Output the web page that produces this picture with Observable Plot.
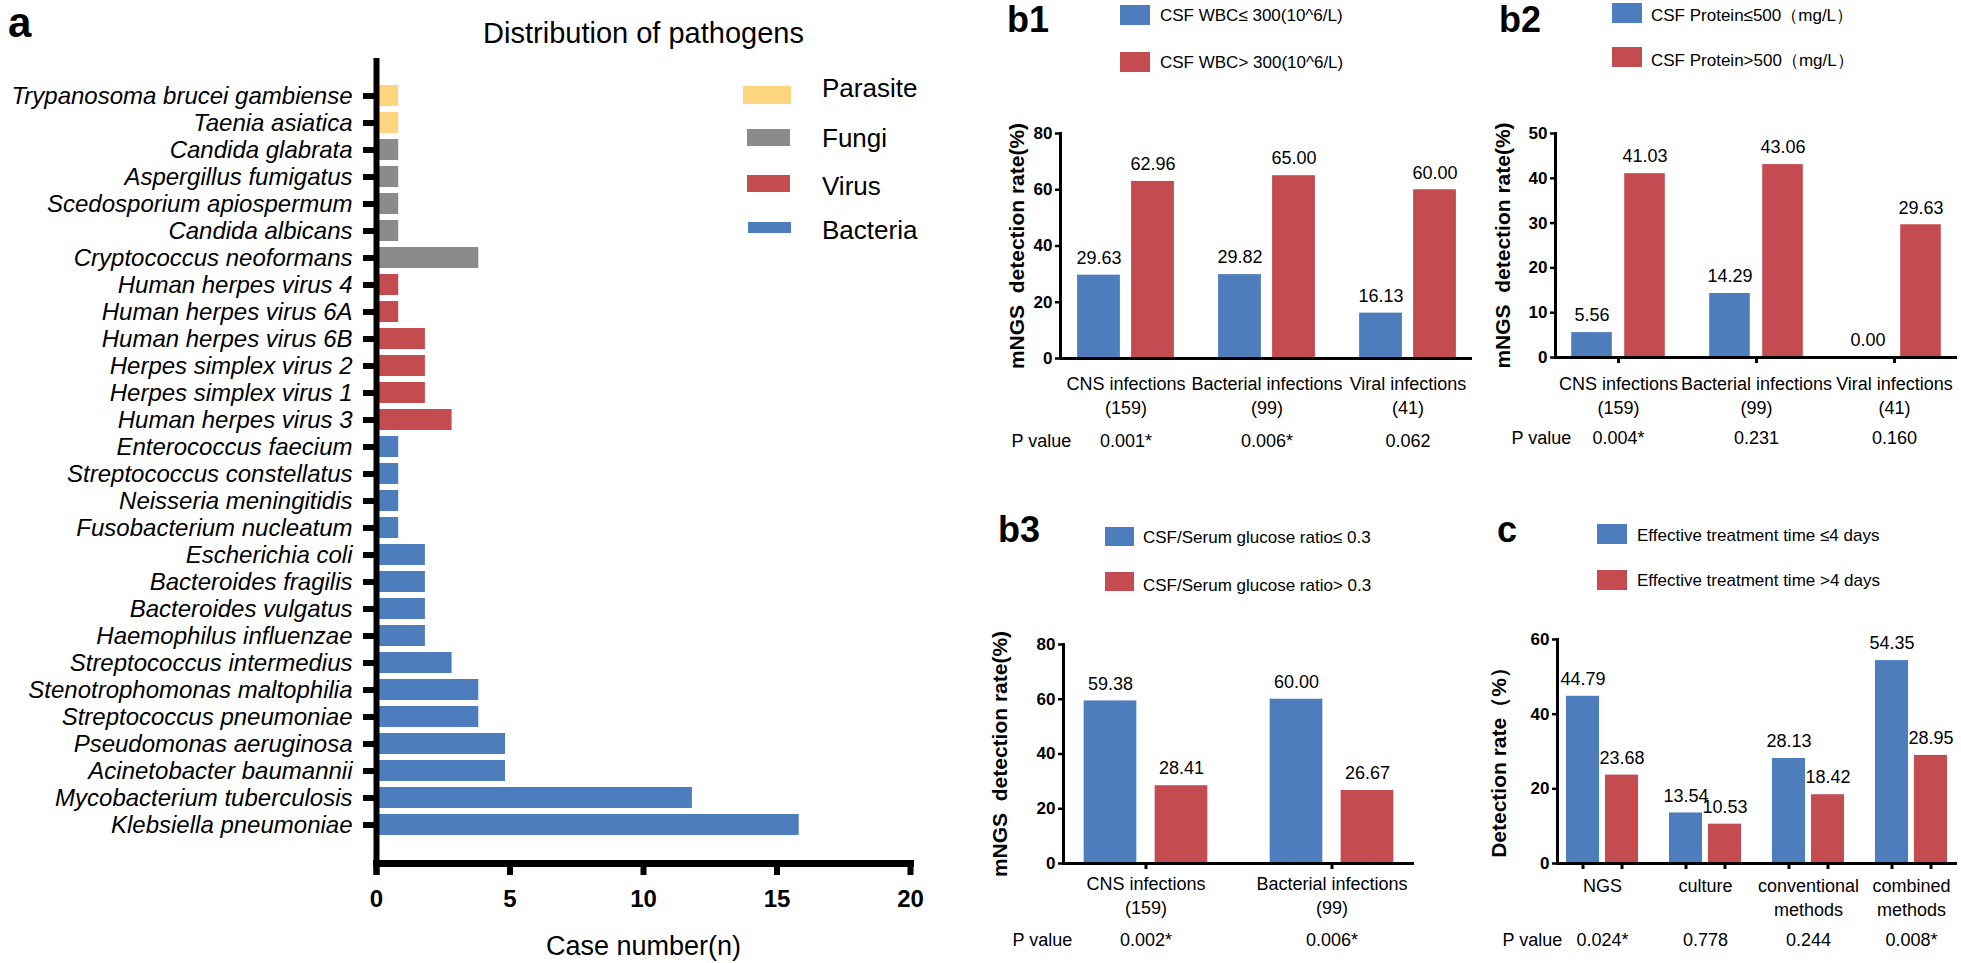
<!DOCTYPE html>
<html><head><meta charset="utf-8">
<script src="https://cdn.jsdelivr.net/npm/d3@7"></script>
<script src="https://cdn.jsdelivr.net/npm/@observablehq/plot@0.6"></script>
<style>
html,body{margin:0;padding:0;background:#fff;}
#root{position:relative;width:1961px;height:963px;overflow:hidden;font-family:'Liberation Sans',Arial,sans-serif;color:#000;}
.t{position:absolute;line-height:1;white-space:pre;}
.sw{position:absolute;}
.pl{position:absolute;}
</style></head><body><div id="root"></div>
<script>
// ---------- DATA ----------
const pathogenNames = [
  "Trypanosoma brucei gambiense","Taenia asiatica","Candida glabrata","Aspergillus fumigatus",
  "Scedosporium apiospermum","Candida albicans","Cryptococcus neoformans","Human herpes virus 4",
  "Human herpes virus 6A","Human herpes virus 6B","Herpes simplex virus 2","Herpes simplex virus 1",
  "Human herpes virus 3","Enterococcus faecium","Streptococcus constellatus","Neisseria meningitidis",
  "Fusobacterium nucleatum","Escherichia coli","Bacteroides fragilis","Bacteroides vulgatus",
  "Haemophilus influenzae","Streptococcus intermedius","Stenotrophomonas maltophilia",
  "Streptococcus pneumoniae","Pseudomonas aeruginosa","Acinetobacter baumannii",
  "Mycobacterium tuberculosis","Klebsiella pneumoniae"];
const pathogenCounts = [1,1,1,1,1,1,4,1,1,2,2,2,3,1,1,1,1,2,2,2,2,3,4,4,5,5,12,16];
const pathogenTypes = ["Parasite","Parasite","Fungi","Fungi","Fungi","Fungi","Fungi",
  "Virus","Virus","Virus","Virus","Virus","Virus",
  "Bacteria","Bacteria","Bacteria","Bacteria","Bacteria","Bacteria","Bacteria","Bacteria",
  "Bacteria","Bacteria","Bacteria","Bacteria","Bacteria","Bacteria","Bacteria","Bacteria"];
const typeNames = ["Parasite","Fungi","Virus","Bacteria"];
const typeColors = ["#fdd57e","#8b8b8b","#c44c51","#4e7dbd"];
const caseTicks = [0,5,10,15,20];

const blue = "#4e7dbd", red = "#c44c51";

const b1Groups = ["CNS infections\n(159)","Bacterial infections\n(99)","Viral infections\n(41)"];
const b1Low = [29.63, 29.82, 16.13];
const b1High = [62.96, 65.00, 60.00];
const b1P = ["0.001*","0.006*","0.062"];
const b1Legend = ["CSF WBC\u2264 300(10^6/L)","CSF WBC> 300(10^6/L)"];

const b2Groups = ["CNS infections\n(159)","Bacterial infections\n(99)","Viral infections\n(41)"];
const b2Low = [5.56, 14.29, 0.00];
const b2High = [41.03, 43.06, 29.63];
const b2P = ["0.004*","0.231","0.160"];
const b2Legend = ["CSF Protein\u2264500\uff08mg/L\uff09","CSF Protein>500\uff08mg/L\uff09"];

const b3Groups = ["CNS infections\n(159)","Bacterial infections\n(99)"];
const b3Low = [59.38, 60.00];
const b3High = [28.41, 26.67];
const b3P = ["0.002*","0.006*"];
const b3Legend = ["CSF/Serum glucose ratio\u2264 0.3","CSF/Serum glucose ratio> 0.3"];

const cGroups = ["NGS","culture","conventional\nmethods","combined\nmethods"];
const cLow = [44.79, 13.54, 28.13, 54.35];
const cHigh = [23.68, 10.53, 18.42, 28.95];
const cP = ["0.024*","0.778","0.244","0.008*"];
const cLegend = ["Effective treatment time \u22644 days","Effective treatment time >4 days"];

// ---------- HELPERS ----------
const root = document.getElementById("root");
const FONT = "'Liberation Sans', Arial, sans-serif";
function addText(txt, x, yc, size, extra = {}) {
  const d = document.createElement("div");
  d.className = "t"; d.textContent = txt;
  d.style.left = x + "px"; d.style.top = (yc - size / 2) + "px"; d.style.fontSize = size + "px";
  Object.assign(d.style, extra);
  root.appendChild(d);
}
function addBaseText(txt, x, baseline, size, extra = {}) {
  addText(txt, x, baseline - 0.85 * size + size / 2, size, extra);
}
function addSwatch(x, y, w, h, color) {
  const d = document.createElement("div");
  d.className = "sw";
  Object.assign(d.style, {left: x + "px", top: y + "px", width: w + "px", height: h + "px", background: color});
  root.appendChild(d);
}
function place(svg, left, top) {
  svg.classList.add("pl");
  svg.style.left = left + "px"; svg.style.top = top + "px";
  root.appendChild(svg);
}

// ---------- PANEL a ----------
const pathogenData = pathogenNames.map((n, i) => ({name: n, count: pathogenCounts[i], type: pathogenTypes[i]}));
const plotA = Plot.plot({
  width: 980, height: 963,
  marginLeft: 376, marginRight: 70, marginTop: 58, marginBottom: 100,
  style: {fontFamily: FONT, color: "#000", background: "none", overflow: "visible"},
  x: {domain: [0, 20], label: null},
  y: {domain: pathogenNames, paddingInner: 0.208, paddingOuter: 0.612, label: null},
  color: {domain: typeNames, range: typeColors},
  marks: [
    Plot.barX(pathogenData, {y: "name", x: "count", fill: "type", insetRight: 4.5}),
    Plot.ruleX([0], {strokeWidth: 6, insetBottom: -12, insetTop: 0}),
    Plot.frame({anchor: "bottom", strokeWidth: 7}),
    Plot.axisY({tickSize: 13, tickPadding: 11, fontSize: 24, fontStyle: "italic", strokeWidth: 6, label: null}),
    Plot.axisX({ticks: caseTicks, tickSize: 12, tickPadding: 14, fontSize: 24, fontWeight: "bold", strokeWidth: 6, label: null}),
    Plot.text(["Case number(n)"], {text: d => d, frameAnchor: "bottom", lineAnchor: "middle", dy: 83, fontSize: 27}),
    Plot.text(["Distribution of pathogens"], {text: d => d, frameAnchor: "top", lineAnchor: "middle", dy: -25, fontSize: 29})
  ]
});
place(plotA, 0, 0);
addBaseText("a", 8, 38, 42, {fontWeight: "bold"});
// legend a
const legA = [[743, 86, 48, 18], [747, 129, 43, 17], [747, 175, 43, 17], [748, 222, 43, 11]];
const legAText = [88, 138, 186, 230];
typeNames.forEach((t, i) => {
  addSwatch(legA[i][0], legA[i][1], legA[i][2], legA[i][3], typeColors[i]);
  addText(t, 822, legAText[i], 26);
});

// ---------- GROUPED PANELS ----------
function grouped(cfg) {
  const {groups, low, high, pvals, left, top, width, height, axisLeft, axisRight, yTop, yBottom,
         yMax, yTicks, pi, po, barW, off, tickMode, tickPad, yTitle, titleDx, titleDy = 0, pDy, pLabelDx} = cfg;
  const ml = axisLeft - left, mr = left + width - axisRight, mt = yTop - top, mb = top + height - yBottom;
  const W = axisRight - axisLeft;
  const step = W / (groups.length - pi + 2 * po);
  const bw = step * (1 - pi);
  const inset = (bw - barW) / 2;
  const rows = groups.map((g, i) => ({g, low: low[i], high: high[i], p: pvals[i]}));
  const marks = [
    Plot.barY(rows, {x: "g", y: "low", fill: blue, insetLeft: inset, insetRight: inset, dx: -off}),
    Plot.barY(rows, {x: "g", y: "high", fill: red, insetLeft: inset, insetRight: inset, dx: off}),
    Plot.text(rows, {x: "g", y: "low", text: d => d.low.toFixed(2), dx: -off, dy: -17, fontSize: 18}),
    Plot.text(rows, {x: "g", y: "high", text: d => d.high.toFixed(2), dx: off, dy: -17, fontSize: 18}),
    Plot.ruleY([0], {strokeWidth: 3}),
    Plot.frame({anchor: "left", strokeWidth: 3}),
    Plot.axisY({ticks: yTicks, tickSize: 5, tickPadding: 3, fontSize: 17, fontWeight: "bold", strokeWidth: 2.5, label: null}),
    Plot.axisX({tickSize: tickMode === "group" ? 6 : 0, tickPadding: tickPad, fontSize: 18, lineHeight: 1.3,
                strokeWidth: 3, label: null, tickFormat: d => d}),
    Plot.text([yTitle], {text: d => d, frameAnchor: "left", textAnchor: "middle", lineAnchor: "middle",
                         rotate: -90, dx: titleDx, dy: titleDy, fontSize: 21, fontWeight: "bold"}),
    Plot.text(rows, {x: "g", text: "p", frameAnchor: "bottom", lineAnchor: "middle", dy: pDy, fontSize: 18}),
    Plot.text(["P value"], {text: d => d, frameAnchor: "bottom-left", textAnchor: "start", lineAnchor: "middle",
                            dx: pLabelDx, dy: pDy, fontSize: 18})
  ];
  if (tickMode === "bar") {
    const H = yBottom - yTop;
    marks.push(Plot.ruleX(rows, {x: "g", dx: -off, insetTop: H, insetBottom: -6, strokeWidth: 3}));
    marks.push(Plot.ruleX(rows, {x: "g", dx: off, insetTop: H, insetBottom: -6, strokeWidth: 3}));
  }
  const svg = Plot.plot({
    width, height, marginLeft: ml, marginRight: mr, marginTop: mt, marginBottom: mb,
    style: {fontFamily: FONT, color: "#000", background: "none", overflow: "visible"},
    x: {domain: groups, paddingInner: pi, paddingOuter: po, label: null},
    y: {domain: [0, yMax], label: null},
    marks
  });
  place(svg, left, top);
}

// b1
grouped({groups: b1Groups, low: b1Low, high: b1High, pvals: b1P,
  left: 985, top: 90, width: 495, height: 380, axisLeft: 1060, axisRight: 1472, yTop: 133, yBottom: 358,
  yMax: 80, yTicks: 4, pi: 0.2, po: 0.0558, barW: 43, off: 27, tickMode: "none", tickPad: 15,
  yTitle: "mNGS  detection rate(%)", titleDx: -43, pDy: 83, pLabelDx: -49});
addBaseText("b1", 1007, 33, 36, {fontWeight: "bold"});
addSwatch(1120, 5, 30, 20, blue); addText(b1Legend[0], 1160, 15, 17);
addSwatch(1120, 52, 30, 20, red); addText(b1Legend[1], 1160, 62, 17);

// b2
grouped({groups: b2Groups, low: b2Low, high: b2High, pvals: b2P,
  left: 1480, top: 90, width: 481, height: 380, axisLeft: 1555, axisRight: 1957, yTop: 133, yBottom: 357,
  yMax: 50, yTicks: 5, pi: 0.2, po: 0.0565, barW: 41, off: 26.5, tickMode: "group", tickPad: 10,
  yTitle: "mNGS  detection rate(%)", titleDx: -52, pDy: 81, pLabelDx: -44});
addBaseText("b2", 1499, 33, 36, {fontWeight: "bold"});
addSwatch(1612, 3, 30, 20, blue); addText(b2Legend[0], 1651, 15, 17);
addSwatch(1612, 47, 30, 20, red); addText(b2Legend[1], 1651, 60, 17);

// b3
grouped({groups: b3Groups, low: b3Low, high: b3High, pvals: b3P,
  left: 985, top: 600, width: 495, height: 363, axisLeft: 1063, axisRight: 1414, yTop: 644, yBottom: 863,
  yMax: 80, yTicks: 4, pi: 0.2, po: 0.0435, barW: 52.5, off: 35.5, tickMode: "group", tickPad: 4,
  yTitle: "mNGS  detection rate(%)", titleDx: -63, pDy: 77, pLabelDx: -51});
addBaseText("b3", 998, 543, 36, {fontWeight: "bold"});
addSwatch(1105, 527, 29, 19, blue); addText(b3Legend[0], 1143, 537, 17);
addSwatch(1105, 572, 29, 19, red); addText(b3Legend[1], 1143, 585, 17);

// c
grouped({groups: cGroups, low: cLow, high: cHigh, pvals: cP,
  left: 1480, top: 600, width: 481, height: 363, axisLeft: 1557, axisRight: 1957, yTop: 639, yBottom: 863,
  yMax: 60, yTicks: 3, pi: 0.2, po: 0.0415, barW: 33.5, off: 19.5, tickMode: "bar", tickPad: 12,
  yTitle: "Detection rate\uff08%\uff09", titleDx: -58, titleDy: 6, pDy: 77, pLabelDx: -55});
addBaseText("c", 1497, 543, 36, {fontWeight: "bold"});
addSwatch(1597, 524, 30, 20, blue); addText(cLegend[0], 1637, 535, 17);
addSwatch(1597, 570, 30, 20, red); addText(cLegend[1], 1637, 580, 17);
</script></body></html>
